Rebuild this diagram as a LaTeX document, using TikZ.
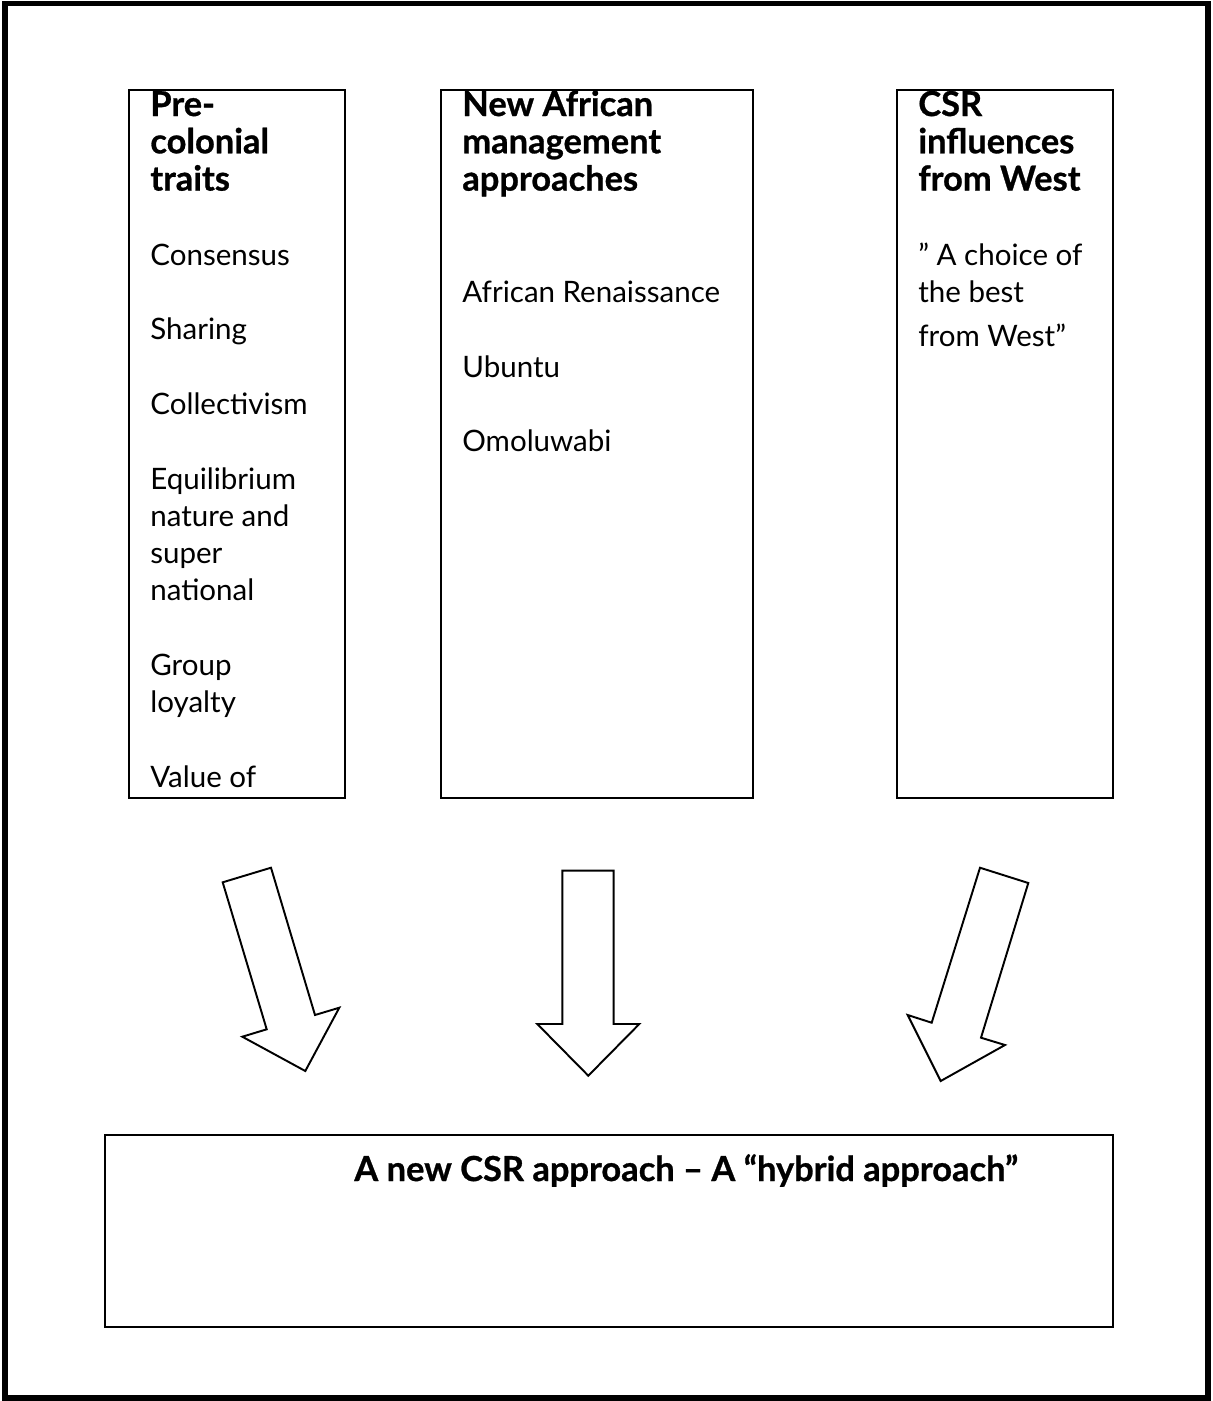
\documentclass[tikz,border=0pt]{standalone}
\usepackage{fontspec}
\setmainfont[BoldFeatures={FakeBold=0.8}]{Lato}
\usetikzlibrary{positioning}

\begin{document}
\begin{tikzpicture}[x=0.02cm,y=-0.02cm,
    colbox/.style={draw,line width=0.85pt,minimum height=14.16cm,inner sep=0pt},
    headtxt/.style={anchor=base west,inner sep=0pt,font=\fontsize{19.6}{21}\selectfont\bfseries},
    itemtxt/.style={anchor=base west,inner sep=0pt,font=\fontsize{16.8}{21}\selectfont},
    blockarrow/.style={draw,line width=1.1pt,line join=miter,fill=white}]
  \useasboundingbox (0,0) rectangle (1213,1401);
  \draw[line width=0.11cm] (5,3.5) rectangle (1208,1398);

  % the three columns
  \node[colbox,minimum width=4.32cm] (pre) at (237,444) {};
  \node[colbox,minimum width=6.24cm] (nam) at (597,444) {};
  \node[colbox,minimum width=4.32cm] (west) at (1005,444) {};
  \node[draw,line width=0.85pt,minimum width=20.16cm,minimum height=3.84cm] (hybrid) at (609,1231) {};

  \foreach \k/\t in {0/Pre-,1/colonial,2/traits}
    \node[headtxt] (pre-h\k) at (150,{116+37.3*\k}) {\t};
  \foreach \k/\t in {4/Consensus,6/Sharing,8/Collectivism,10/Equilibrium,11/nature and,12/super,13/national,15/Group,16/loyalty,18/Value of}
    \node[itemtxt] (pre-i\k) at (150,{116+37.3*\k}) {\t};

  \foreach \k/\t in {0/New African,1/management,2/approaches}
    \node[headtxt] (nam-h\k) at (462,{116+37.3*\k}) {\t};
  \foreach \k/\t in {5/African Renaissance,7/Ubuntu,9/Omoluwabi}
    \node[itemtxt] (nam-i\k) at (462,{116+37.3*\k}) {\t};

  \foreach \k/\t in {0/CSR,1/influences,2/from West}
    \node[headtxt] (west-h\k) at (918,{116+37.3*\k}) {\t};
  \foreach \k/\t in {4/” A choice of,5/the best}
    \node[itemtxt] (west-i\k) at (918,{116+37.3*\k}) {\t};
  \node[itemtxt] (west-i6) at (918,346) {from West”};

  \node[headtxt] (hybrid-t) at (354,1181) {A new CSR approach – A “hybrid approach”};

  % block arrows
  \draw[blockarrow] (222.7,882.3) -- (271,867.7) -- (315,1015) -- (339.3,1007.7) -- (305.3,1071) -- (242.3,1036.7) -- (266.7,1029.3) -- cycle;
  \draw[blockarrow] (562.3,870.7) -- (613.7,870.7) -- (613.7,1024) -- (639.3,1024) -- (588.3,1075.7) -- (537.3,1024) -- (562.3,1024) -- cycle;
  \draw[blockarrow] (980,867.7) -- (1028.3,883) -- (981,1037.7) -- (1005,1045) -- (940.7,1081) -- (907.7,1015) -- (931.7,1022.7) -- cycle;
\end{tikzpicture}
\end{document}
